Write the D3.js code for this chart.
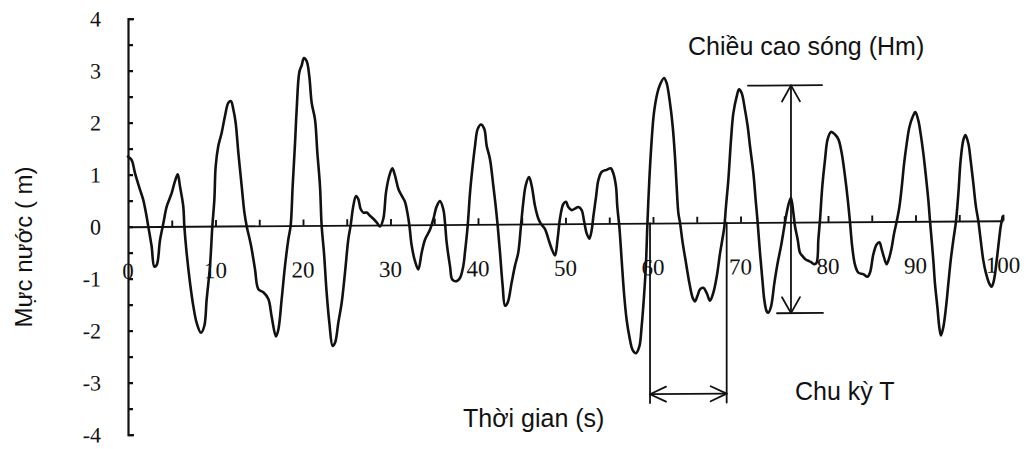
<!DOCTYPE html>
<html>
<head>
<meta charset="utf-8">
<script src="https://cdn.jsdelivr.net/npm/d3@7"></script>
<style>
  html, body { margin: 0; padding: 0; background: #fff; }
  svg { display: block; }
</style>
</head>
<body>
<svg id="chart" width="1026" height="449"></svg>
<script>
// Time axis (s) of the recorded surface elevation
const timeS = [
  0.00, 0.42, 0.80, 1.37, 1.75, 2.13, 2.32, 2.70, 3.01, 3.28, 3.66, 4.04, 4.42, 4.99, 5.37, 5.68,
  5.94, 6.32, 6.44, 6.70, 7.09, 7.47, 7.85, 8.34, 8.72, 8.99, 9.37, 9.64, 9.87, 10.02, 10.32, 10.70,
  11.09, 11.47, 11.77, 12.04, 12.30, 12.61, 12.99, 13.30, 13.56, 14.06, 14.51, 14.90, 15.47, 16.04,
  16.42, 16.91, 17.18, 17.56, 17.94, 18.32, 18.59, 18.82, 19.09, 19.28, 19.58, 19.85, 20.11, 20.42,
  20.72, 20.99, 21.37, 21.64, 21.94, 22.13, 22.40, 22.70, 23.01, 23.39, 23.66, 24.04, 24.42, 24.80,
  25.18, 25.45, 25.75, 26.06, 26.32, 26.59, 26.90, 27.28, 27.66, 28.04, 28.42, 28.80, 29.18, 29.49,
  29.87, 30.21, 30.51, 30.90, 31.28, 31.66, 31.92, 32.15, 32.42, 32.80, 33.18, 33.56, 33.94, 34.51,
  34.89, 35.28, 35.66, 36.04, 36.23, 36.42, 36.80, 37.07, 37.56, 37.94, 38.32, 38.51, 38.82, 39.09,
  39.35, 39.66, 39.96, 40.34, 40.72, 40.99, 41.37, 41.75, 42.02, 42.25, 42.51, 42.82, 43.09, 43.39,
  43.85, 44.23, 44.61, 44.91, 45.18, 45.45, 45.83, 46.13, 46.51, 46.90, 47.20, 47.66, 48.04, 48.42,
  48.80, 49.10, 49.37, 49.75, 50.06, 50.32, 50.70, 51.09, 51.47, 51.85, 52.11, 52.42, 52.72, 52.99,
  53.18, 53.49, 53.75, 54.13, 54.70, 55.16, 55.47, 55.77, 55.92, 56.15, 56.42, 56.69, 56.99, 57.30,
  57.68, 58.06, 58.44, 58.70, 58.97, 59.20, 59.35, 59.58, 59.85, 60.11, 60.50, 60.80, 61.26, 61.56,
  61.94, 62.25, 62.51, 62.70, 62.90, 63.09, 63.39, 63.77, 64.15, 64.53, 64.80, 65.07, 65.37, 65.75,
  66.13, 66.51, 66.89, 67.28, 67.66, 67.92, 68.15, 68.34, 68.61, 68.91, 69.18, 69.56, 69.83, 70.13,
  70.51, 70.82, 71.09, 71.47, 71.73, 71.96, 72.23, 72.50, 72.72, 72.99, 73.18, 73.49, 73.87, 74.25,
  74.63, 75.01, 75.28, 75.54, 75.77, 76.04, 76.23, 76.53, 76.80, 77.07, 77.45, 77.83, 78.13, 78.44,
  78.70, 78.90, 79.09, 79.35, 79.66, 79.96, 80.34, 80.80, 81.18, 81.56, 81.94, 82.25, 82.51, 82.78,
  83.09, 83.47, 84.04, 84.50, 84.80, 85.18, 85.56, 85.87, 86.13, 86.40, 86.70, 87.01, 87.28, 87.54,
  87.85, 88.15, 88.42, 88.69, 88.99, 89.30, 89.68, 89.98, 90.32, 90.59, 90.90, 91.20, 91.47, 91.66,
  91.85, 92.04, 92.23, 92.50, 92.72, 92.91, 93.18, 93.49, 93.75, 94.02, 94.32, 94.63, 94.90, 95.16,
  95.47, 95.70, 96.04, 96.30, 96.61, 96.91, 97.18, 97.45, 97.75, 98.06, 98.44, 98.70, 98.97, 99.28,
  99.50, 99.73, 99.96
];

// Water level (m) at each time step
const waterLevel = [
  1.35, 1.28, 1.03, 0.71, 0.51, 0.19, 0.00, -0.38, -0.77, -0.74, -0.26, 0.06, 0.38, 0.64, 0.87, 1.00,
  0.77, 0.38, 0.00, -0.51, -1.09, -1.54, -1.86, -2.05, -1.92, -1.41, -0.77, 0.00, 0.51, 1.15, 1.54, 1.79,
  2.12, 2.37, 2.40, 2.24, 1.99, 1.41, 0.77, 0.26, 0.00, -0.38, -0.83, -1.22, -1.28, -1.41,
  -1.75, -2.13, -2.00, -1.42, -0.78, -0.27, 0.00, 0.76, 1.59, 2.24, 2.95, 3.08, 3.22, 3.16,
  2.87, 2.36, 2.04, 1.40, 0.76, 0.00, -0.53, -1.29, -1.87, -2.32, -2.26, -1.87, -1.49, -0.91,
  -0.27, 0.00, 0.37, 0.56, 0.50, 0.31, 0.24, 0.24, 0.18, 0.12, 0.05, -0.03, 0.12, 0.63,
  0.95, 1.09, 0.95, 0.69, 0.56, 0.44, 0.24, 0.00, -0.40, -0.70, -0.86, -0.54, -0.29, -0.10,
  0.10, 0.35, 0.45, 0.29, 0.03, -0.35, -0.80, -1.06, -1.09, -1.03, -0.80, -0.54, -0.03, 0.61,
  1.06, 1.51, 1.83, 1.92, 1.83, 1.51, 1.25, 0.74, 0.35, -0.03, -0.54, -1.19, -1.57, -1.51,
  -1.12, -0.80, -0.54, -0.03, 0.42, 0.74, 0.90, 0.74, 0.35, 0.10, 0.00, -0.10, -0.29, -0.48,
  -0.61, -0.29, 0.10, 0.38, 0.42, 0.32, 0.26, 0.29, 0.32, 0.26, 0.06, -0.19, -0.29, -0.13,
  0.13, 0.51, 0.83, 0.99, 1.03, 1.06, 0.96, 0.71, 0.32, -0.06, -0.71, -1.35, -1.86, -2.18,
  -2.44, -2.50, -2.37, -1.99, -1.41, -0.77, -0.06, 0.83, 1.60, 2.12, 2.50, 2.66, 2.79, 2.69,
  2.31, 1.86, 1.28, 0.71, 0.19, 0.00, -0.38, -0.77, -1.15, -1.44, -1.51, -1.41, -1.28, -1.25,
  -1.35, -1.50, -1.35, -1.04, -0.59, -0.33, -0.08, 0.31, 0.82, 1.58, 2.10, 2.42, 2.56, 2.49,
  2.17, 1.85, 1.46, 0.95, 0.44, 0.00, -0.59, -1.10, -1.49, -1.71, -1.74, -1.62, -1.17, -0.78,
  -0.46, -0.08, 0.18, 0.37, 0.47, 0.18, -0.08, -0.33, -0.59, -0.65, -0.72, -0.75, -0.78, -0.81,
  -0.78, -0.33, 0.05, 0.69, 1.20, 1.59, 1.73, 1.68, 1.59, 1.33, 0.88, 0.44, 0.00, -0.50,
  -0.83, -0.98, -1.01, -1.06, -0.98, -0.63, -0.44, -0.40, -0.53, -0.69, -0.82, -0.69, -0.50, -0.24,
  0.00, 0.27, 0.65, 1.10, 1.49, 1.81, 2.01, 2.10, 1.94, 1.68, 1.30, 0.85, 0.40, 0.00,
  -0.37, -0.76, -1.21, -1.65, -2.04, -2.20, -2.04, -1.65, -1.21, -0.76, -0.37, 0.00, 0.53, 1.17,
  1.56, 1.65, 1.49, 1.17, 0.72, 0.27, 0.00, -0.37, -0.76, -1.01, -1.21, -1.27, -1.14, -0.76,
  -0.44, -0.12, 0.08
];

// Axis ticks and labels
const xTickLabels = [0, 10, 20, 30, 40, 50, 60, 70, 80, 90, 100];
const xTickMarks = d3.range(5, 101, 5);
const yTickLabels = [-4, -3, -2, -1, 0, 1, 2, 3, 4];
const yTickMarks = d3.range(-4, 4.01, 0.5);

// Annotation: one wave period between two zero up-crossings
const periodStart = [59.66];
const periodEnd = [68.42];
const periodArrowLevel = [-3.29];
const periodLineBottom = [-3.46];

// Annotation: wave height between crest and trough
const crestLevel = [2.63];
const troughLevel = [-1.75];
const crestLineSpan = [70.86, 79.31];
const troughLineSpan = [74.17, 79.43];
const heightArrowTime = [75.77];

const svg = d3.select("#chart");
const serif = "'Liberation Serif', 'Times New Roman', serif";
const sans = "'Liberation Sans', Arial, sans-serif";
const ink = "#111";

const x = d3.scaleLinear().domain([0, 100]).range([128, 1003]);
const y = d3.scaleLinear().domain([-4, 4]).range([434.7, 18.7]);

// the recorded sheet is slightly sheared: zero line drops a few px to the right
const plot = svg.append("g")
  .attr("transform", "translate(128,0) skewY(-0.393) translate(-128,0)");

// Y axis with bracket ends and half-metre ticks
plot.append("g")
  .attr("transform", `translate(${x(0)},0)`)
  .call(d3.axisRight(y).tickValues(yTickMarks).tickSizeInner(5).tickSizeOuter(6).tickFormat(""))
  .call(g => g.selectAll("path, line").attr("stroke", ink).attr("stroke-width", 2.2));

// Y tick labels
plot.append("g")
  .selectAll("text")
  .data(yTickLabels)
  .join("text")
  .attr("x", 101)
  .attr("y", d => y(d))
  .attr("dy", "0.34em")
  .attr("text-anchor", "end")
  .attr("font-family", serif)
  .attr("font-size", 22)
  .attr("fill", ink)
  .text(d => d < 0 ? "-" + Math.abs(d) : String(d));

// X axis (zero line) with upward ticks every 5 s
plot.append("g")
  .attr("transform", `translate(0,${y(0)})`)
  .call(d3.axisTop(x).tickValues(xTickMarks).tickSizeInner(6).tickSizeOuter(0).tickFormat(""))
  .call(g => g.selectAll("path, line").attr("stroke", ink).attr("stroke-width", 1.9));

// X tick labels, hung below the zero line
plot.append("g")
  .selectAll("text")
  .data(xTickLabels)
  .join("text")
  .attr("x", d => x(d))
  .attr("y", y(0) + 52)
  .attr("text-anchor", "middle")
  .attr("font-family", serif)
  .attr("font-size", 23)
  .attr("fill", ink)
  .text(d => d);

// Water level trace
const series = timeS.map((t, i) => [t, waterLevel[i]]);
plot.append("path")
  .datum(series)
  .attr("fill", "none")
  .attr("stroke", ink)
  .attr("stroke-width", 2.6)
  .attr("stroke-linejoin", "round")
  .attr("stroke-linecap", "round")
  .attr("d", d3.line().x(d => x(d[0])).y(d => y(d[1])).curve(d3.curveCatmullRom.alpha(0.5)));

// Annotation lines
const ann = plot.append("g")
  .attr("fill", "none")
  .attr("stroke", ink)
  .attr("stroke-width", 1.8)
  .attr("stroke-linecap", "round")
  .attr("stroke-linejoin", "round");

// period bounds
[periodStart[0], periodEnd[0]].forEach(t => {
  ann.append("line")
    .attr("x1", x(t)).attr("x2", x(t))
    .attr("y1", y(0)).attr("y2", y(periodLineBottom[0]));
});
// period double arrow
const pa = y(periodArrowLevel[0]);
const pL = x(periodStart[0]), pR = x(periodEnd[0]);
ann.append("line").attr("x1", pL).attr("x2", pR).attr("y1", pa).attr("y2", pa);
ann.append("path").attr("d", `M${pL + 16},${pa - 7.5} L${pL},${pa} L${pL + 16},${pa + 7.5}`);
ann.append("path").attr("d", `M${pR - 16},${pa - 7.5} L${pR},${pa} L${pR - 16},${pa + 7.5}`);

// crest and trough reference lines
ann.append("line")
  .attr("x1", x(crestLineSpan[0])).attr("x2", x(crestLineSpan[1]))
  .attr("y1", y(crestLevel[0])).attr("y2", y(crestLevel[0]));
ann.append("line")
  .attr("x1", x(troughLineSpan[0])).attr("x2", x(troughLineSpan[1]))
  .attr("y1", y(troughLevel[0])).attr("y2", y(troughLevel[0]));
// wave height double arrow
const hx = x(heightArrowTime[0]);
const hT = y(crestLevel[0]), hB = y(troughLevel[0]);
ann.append("line").attr("x1", hx).attr("x2", hx).attr("y1", hT).attr("y2", hB);
ann.append("path").attr("d", `M${hx - 9},${hT + 16} L${hx},${hT} L${hx + 9},${hT + 16}`);
ann.append("path").attr("d", `M${hx - 9},${hB - 16} L${hx},${hB} L${hx + 9},${hB - 16}`);

// Titles and annotation text
svg.append("text")
  .attr("x", 688).attr("y", 55)
  .attr("font-family", sans).attr("font-size", 25).attr("fill", ink)
  .text("Chiều cao sóng (Hm)");

svg.append("text")
  .attr("x", 795).attr("y", 400)
  .attr("font-family", sans).attr("font-size", 25).attr("fill", ink)
  .text("Chu kỳ T");

svg.append("text")
  .attr("x", 463).attr("y", 427)
  .attr("font-family", sans).attr("font-size", 25).attr("fill", ink)
  .text("Thời gian (s)");

svg.append("text")
  .attr("transform", "translate(32,247) rotate(-90)")
  .attr("text-anchor", "middle")
  .attr("font-family", sans).attr("font-size", 24).attr("fill", ink)
  .text("Mực nước ( m)");
</script>
</body>
</html>
